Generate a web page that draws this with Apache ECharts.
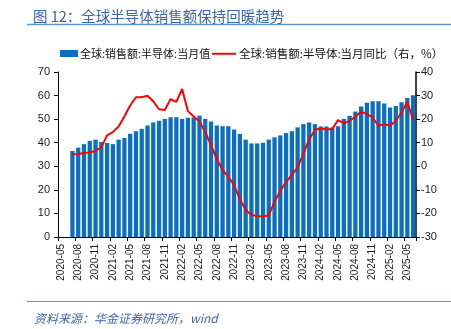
<!DOCTYPE html>
<html>
<head>
<meta charset="utf-8">
<script src="https://cdn.jsdelivr.net/npm/echarts@6/dist/echarts.min.js"></script>
<style>html,body{margin:0;padding:0;background:#fff;}#c{width:451px;height:329px;}</style>
</head>
<body>
<div id="c"></div>
<script>
var categories = [
'2020-05','2020-06','2020-07','2020-08','2020-09','2020-10','2020-11','2020-12',
'2021-01','2021-02','2021-03','2021-04','2021-05','2021-06','2021-07','2021-08','2021-09','2021-10','2021-11','2021-12',
'2022-01','2022-02','2022-03','2022-04','2022-05','2022-06','2022-07','2022-08','2022-09','2022-10','2022-11','2022-12',
'2023-01','2023-02','2023-03','2023-04','2023-05','2023-06','2023-07','2023-08','2023-09','2023-10','2023-11','2023-12',
'2024-01','2024-02','2024-03','2024-04','2024-05','2024-06','2024-07','2024-08','2024-09','2024-10','2024-11','2024-12',
'2025-01','2025-02','2025-03','2025-04','2025-05','2025-06'];

var salesValue = [null, null,
36.5,37.9,39.4,40.8,41.3,40.3,
39.9,39.4,41.3,42.0,43.8,44.9,45.9,47.3,48.6,49.3,50.1,50.8,
50.8,50.1,50.6,50.7,51.5,50.1,49.0,47.3,47.0,47.0,45.6,43.7,
41.3,39.7,39.7,40.0,41.3,42.3,43.1,44.1,44.9,46.5,47.9,48.6,
47.9,46.9,46.9,46.5,47.0,50.1,51.4,53.2,55.4,57.0,57.6,57.6,
56.6,54.9,55.6,57.2,59.0,60.1];

var salesYoY = [null, null,
5.1,5.2,5.6,5.9,6.5,8.0,
13.1,14.5,16.9,21.1,25.8,29.3,29.3,29.9,27.6,24.2,23.9,28.5,
27.3,32.8,23.4,21.1,19.0,14.5,9.0,3.0,-1.5,-4.5,-8.0,-14.0,
-18.5,-20.7,-21.1,-21.4,-20.8,-15.0,-10.5,-6.6,-3.8,-0.3,5.3,11.5,
15.4,16.1,15.6,15.8,19.6,18.2,19.3,21.0,23.2,22.1,20.7,17.2,
17.9,17.2,19.3,22.8,27.3,19.7];

var leftTicks = {min: 0, max: 70, interval: 10};
var rightTicks = {min: -30, max: 40, interval: 10};
var titleText = '图 12：全球半导体销售额保持回暖趋势';
var sourceText = '资料来源：华金证券研究所，wind';
var seriesNames = ['全球:销售额:半导体:当月值', '全球:销售额:半导体:当月同比（右，%）'];

var chart = echarts.init(document.getElementById('c'), null, {renderer: 'canvas'});
var axisFont = 'Liberation Sans, Arial, sans-serif';
chart.setOption({
  animation: false,
  backgroundColor: '#fff',
  title: [{
    text: titleText,
    left: 28, top: 4,
    textStyle: {fontFamily: 'Noto Sans CJK SC', fontSize: 14.5, fontWeight: 'normal', color: '#3a66a6'}
  }, {
    text: sourceText,
    left: 29, top: 307,
    textStyle: {fontFamily: 'Noto Sans CJK SC', fontSize: 12, fontWeight: 'normal', fontStyle: 'italic', color: '#3a66b0'}
  }],
  graphic: [
    {type: 'line', shape: {x1: 27, y1: 24.5, x2: 451, y2: 24.5}, style: {stroke: '#5b9bd5', lineWidth: 1.5}},
    {type: 'line', shape: {x1: 27, y1: 301.5, x2: 451, y2: 301.5}, style: {stroke: '#5b9bd5', lineWidth: 1.2}}
  ],
  legend: [{
    left: 55, top: 43,
    itemWidth: 18, itemHeight: 7,
    textStyle: {fontFamily: 'Noto Sans CJK SC', fontSize: 11, color: '#111', padding: [0, 0, 0, -3]},
    data: [{name: seriesNames[0], icon: 'rect'}]
  }, {
    left: 207, top: 43,
    itemWidth: 24, itemHeight: 2,
    textStyle: {fontFamily: 'Noto Sans CJK SC', fontSize: 11.5, color: '#111', padding: [0, 0, 0, -2]},
    data: [{name: seriesNames[1], icon: 'rect'}]
  }],
  grid: {left: 58, right: 35, top: 72, bottom: 92, containLabel: false},
  xAxis: {
    type: 'category',
    data: categories,
    boundaryGap: true,
    axisLine: {lineStyle: {color: '#000', width: 1}},
    axisTick: {show: true, interval: 2, length: 4, lineStyle: {color: '#000'}},
    axisLabel: {interval: 2, rotate: 90, fontSize: 10, fontFamily: axisFont, color: '#222', margin: 7}
  },
  yAxis: [{
    type: 'value',
    min: leftTicks.min, max: leftTicks.max, interval: leftTicks.interval,
    splitLine: {show: false},
    axisLine: {show: true, lineStyle: {color: '#000', width: 1}},
    axisTick: {show: true, length: 4, lineStyle: {color: '#000'}},
    axisLabel: {fontSize: 11, fontFamily: axisFont, color: '#222', margin: 8}
  }, {
    type: 'value',
    min: rightTicks.min, max: rightTicks.max, interval: rightTicks.interval,
    splitLine: {show: false},
    axisLine: {show: true, lineStyle: {color: '#000', width: 1.5}},
    axisTick: {show: true, length: 4, lineStyle: {color: '#000'}},
    axisLabel: {fontSize: 11, fontFamily: axisFont, color: '#222', margin: 5}
  }],
  series: [{
    name: seriesNames[0],
    type: 'bar',
    yAxisIndex: 0,
    data: salesValue,
    barCategoryGap: '26%',
    itemStyle: {color: '#0a6fc2'}
  }, {
    name: seriesNames[1],
    type: 'line',
    yAxisIndex: 1,
    data: salesYoY,
    symbol: 'none',
    showSymbol: false,
    lineStyle: {color: '#ff0000', width: 2},
    itemStyle: {color: '#ff0000'},
    z: 5
  }]
});
</script>
</body>
</html>
